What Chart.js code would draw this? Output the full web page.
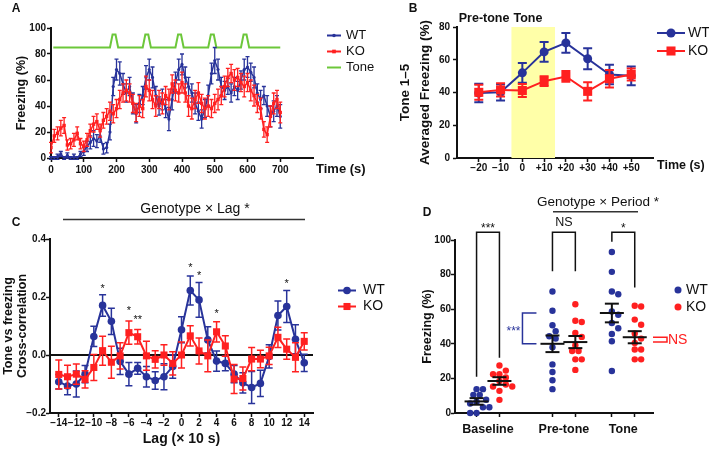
<!DOCTYPE html>
<html>
<head>
<meta charset="utf-8">
<script src="https://cdn.jsdelivr.net/npm/chart.js@4.4.1/dist/chart.umd.min.js"></script>
<style>
  html, body { margin: 0; padding: 0; background: #fff; }
  #page { position: relative; width: 709px; height: 450px; overflow: hidden; }
  canvas { position: absolute; }
</style>
</head>
<body>
<div id="page">
  <canvas id="cA" width="380" height="190" style="left:0;top:0"></canvas>
  <canvas id="cB" width="329" height="190" style="left:380px;top:0"></canvas>
  <canvas id="cD" width="329" height="260" style="left:380px;top:190px"></canvas>
  <canvas id="cC" width="395" height="260" style="left:0;top:190px"></canvas>
</div>
<script>
// ---------- A: freezing across the session (10 s bins) ----------
const timeA = [0, 10, 20, 30, 40, 50, 60, 70, 80, 90,
  100, 110, 120, 130, 140, 150, 160, 170, 180, 190,
  200, 210, 220, 230, 240, 250, 260, 270, 280, 290,
  300, 310, 320, 330, 340, 350, 360, 370, 380, 390,
  400, 410, 420, 430, 440, 450, 460, 470, 480, 490,
  500, 510, 520, 530, 540, 550, 560, 570, 580, 590,
  600, 610, 620, 630, 640, 650, 660, 670, 680, 690, 700];
const wtA = [0, 0, 1, 3, 0, 2, 0, 1, 0, 3,
  5, 9, 12, 15, 13, 17, 7, 8, 20, 55,
  68, 65, 57, 50, 55, 42, 34, 42, 48, 62,
  68, 62, 48, 40, 45, 38, 30, 45, 58, 68,
  72, 62, 55, 50, 42, 36, 30, 38, 48, 65,
  75, 68, 55, 52, 55, 50, 55, 52, 60, 68,
  70, 66, 62, 50, 45, 48, 40, 32, 36, 40, 32];
const wtErrA = [1, 1, 2, 2, 1, 2, 1, 2, 1, 2,
  3, 4, 5, 6, 5, 5, 4, 4, 6, 7,
  8, 9, 8, 7, 7, 8, 7, 7, 7, 9,
  8, 8, 7, 7, 8, 7, 9, 8, 8, 8,
  8, 8, 7, 7, 8, 7, 7, 7, 8, 8,
  10, 8, 7, 7, 6, 7, 7, 7, 7, 8,
  8, 7, 8, 7, 7, 7, 8, 8, 8, 8, 9];
const koA = [8, 17, 19, 23, 25, 10, 11, 14, 19, 11,
  9, 14, 21, 26, 28, 21, 29, 32, 36, 34,
  38, 45, 50, 52, 50, 42, 35, 40, 38, 55,
  52, 45, 40, 45, 42, 48, 45, 57, 52, 50,
  58, 50, 40, 38, 45, 50, 42, 38, 40, 38,
  42, 45, 48, 55, 62, 65, 60, 62, 58, 55,
  58, 52, 48, 42, 38, 22, 18, 32, 42, 45, 35];
const koErrA = [4, 5, 5, 6, 6, 4, 4, 5, 5, 4,
  4, 5, 5, 6, 6, 5, 6, 6, 7, 7,
  7, 7, 7, 8, 7, 7, 7, 8, 7, 8,
  8, 7, 8, 7, 8, 7, 8, 7, 8, 7,
  8, 7, 8, 8, 7, 8, 7, 8, 8, 7,
  7, 8, 7, 8, 7, 7, 8, 7, 7, 8,
  7, 8, 8, 7, 8, 6, 6, 8, 8, 7, 8];
const toneTimes = [7, 180, 188, 197, 205, 280, 288, 297, 305, 380, 388, 397, 405,
  480, 488, 497, 505, 580, 588, 597, 605, 700];
const toneLevels = [85, 85, 95, 95, 85, 85, 95, 95, 85, 85, 95, 95, 85,
  85, 95, 95, 85, 85, 95, 95, 85, 85];
const timeTicksA = [0, 100, 200, 300, 400, 500, 600, 700];

// ---------- B: tone 1-5 averaged ----------
const timeB = [-20, -10, 0, 10, 20, 30, 40, 50];
const wtB = [39.7, 40.1, 52, 64.8, 70.3, 60.6, 51, 50.2];
const wtErrB = [5.7, 5, 6, 6, 6, 6.4, 5.9, 5.7];
const koB = [40.1, 41.6, 41.2, 46.9, 49.8, 40.7, 48.4, 51];
const koErrB = [4.6, 4, 4, 3, 3.3, 5.6, 5.3, 3.6];
const toneWindowB = [-5, 15];

// ---------- C: cross-correlation ----------
const lags = [-14, -13, -12, -11, -10, -9, -8, -7, -6, -5, -4, -3, -2, -1,
  0, 1, 2, 3, 4, 5, 6, 7, 8, 9, 10, 11, 12, 13, 14];
const wtC = [-0.092, -0.107, -0.100, -0.066, 0.064, 0.171, 0.116, -0.022, -0.066, -0.046, -0.075, -0.088, -0.075, -0.040,
  0.087, 0.222, 0.190, 0.052, -0.021, -0.029, -0.066, -0.096, -0.112, -0.098, -0.005, 0.136, 0.167, 0.054, -0.027];
const wtErrC = [0.025, 0.03, 0.045, 0.03, 0.035, 0.037, 0.045, 0.045, 0.04, 0.02, 0.035, 0.03, 0.045, 0.04,
  0.045, 0.05, 0.06, 0.045, 0.035, 0.025, 0.03, 0.035, 0.055, 0.045, 0.04, 0.05, 0.055, 0.05, 0.03];
const koC = [-0.067, -0.075, -0.066, -0.084, -0.043, 0.015, -0.025, -0.003, 0.077, 0.063, -0.003, -0.015, 0.000, -0.029,
  0.000, 0.066, 0.014, -0.003, 0.080, 0.031, -0.083, -0.081, -0.014, -0.014, -0.003, 0.061, 0.020, -0.008, 0.047];
const koErrC = [0.05, 0.04, 0.035, 0.03, 0.045, 0.05, 0.055, 0.045, 0.04, 0.025, 0.05, 0.03, 0.035, 0.04,
  0.045, 0.035, 0.045, 0.055, 0.035, 0.035, 0.05, 0.04, 0.04, 0.03, 0.03, 0.035, 0.035, 0.05, 0.03];
const lagTicks = [-14, -12, -10, -8, -6, -4, -2, 0, 2, 4, 6, 8, 10, 12, 14];
const starLags = [-9, -6, -5, 1, 2, 4, 12];
const starLevels = [0.24, 0.162, 0.132, 0.31, 0.284, 0.152, 0.256];
const starTexts = ['*', '*', '**', '*', '*', '*', '*'];

// ---------- D: individual animals ----------
const periods = ['Baseline', 'Pre-tone', 'Tone'];
const wtD = [
  [13.8, 13.8, 10.5, 10.5, 7.7, 6.5, 5.5, 3.3, 3.3, 0, 0],
  [70.2, 59.1, 50.7, 47.3, 44.4, 43, 38, 28.1, 23.7, 18.9, 13.8],
  [93.1, 81.6, 70.2, 68.6, 58.7, 56.8, 52, 49, 45.7, 41.5, 24.3]
];
const koD = [
  [27.5, 24.5, 22.4, 22.4, 20.5, 18.5, 16.5, 15.3, 15.3, 12.8, 7.6],
  [62.9, 53.3, 52.6, 46.3, 44, 39.2, 35.8, 35.8, 31, 31, 24.9],
  [62, 61.6, 54, 51, 46, 43, 40.5, 36.7, 36.7, 31, 31]
];
const wtMeanD = [6.7, 40, 57.8];
const wtSemD = [1.9, 4.8, 5.4];
const koMeanD = [18.5, 41, 43.8];
const koSemD = [2.2, 3.5, 3.5];
const bracketLegs = [[21, 32], [82, 82], [99, 72.5]];
const bracketTexts = ['***', 'NS', '*'];

// ---------- look ----------
const FONT = '"Liberation Sans", Arial, Helvetica, sans-serif';
const BLUE = '#28339a', RED = '#ff2020', GREEN = '#6cc73a', YELLOW = '#ffffa8', INK = '#111';
Chart.defaults.font.family = FONT;
Chart.defaults.color = INK;

const tickFont = { size: 10, weight: 'bold' };
const axisGrid = { drawOnChartArea: false, drawTicks: true, tickLength: 4, tickWidth: 1.5, tickColor: INK };
const axisBorder = { display: true, color: INK, width: 2 };
const fixWidth = w => s => { s.width = w; };
const fixHeight = h => s => { s.height = h; };
const setTicks = vals => s => { s.ticks = vals.map(v => ({ value: v })); };
const signed = v => v < 0 ? '\u2212' + Math.abs(v) : String(v);
const pts = (xs, ys) => xs.map((x, i) => ({ x: x, y: ys[i] }));

function baseOptions(pad) {
  return {
    responsive: false, animation: false, events: [],
    layout: { padding: pad },
    plugins: { legend: { display: false }, tooltip: { enabled: false } }
  };
}

function text(ctx, s, x, y, font, color, align, base) {
  ctx.save();
  ctx.font = font;
  ctx.fillStyle = color || INK;
  ctx.textAlign = align || 'left';
  ctx.textBaseline = base || 'middle';
  ctx.fillText(s, x, y);
  ctx.restore();
}
function line(ctx, coords, color, w) {
  ctx.save();
  ctx.strokeStyle = color || INK;
  ctx.lineWidth = w || 1.5;
  ctx.beginPath();
  coords.forEach((p, i) => i ? ctx.lineTo(p[0], p[1]) : ctx.moveTo(p[0], p[1]));
  ctx.stroke();
  ctx.restore();
}
function marker(ctx, style, x, y, r, color) {
  ctx.save();
  ctx.fillStyle = color;
  ctx.beginPath();
  if (style === 'rect') { const h = r * Math.SQRT1_2; ctx.rect(x - h, y - h, 2 * h, 2 * h); }
  else ctx.arc(x, y, r, 0, Math.PI * 2);
  ctx.fill();
  ctx.restore();
}
function legendRow(ctx, x1, x2, y, color, style, r, label, size, tx) {
  line(ctx, [[x1, y], [x2, y]], color, 2);
  if (style) marker(ctx, style, (x1 + x2) / 2, y, r, color);
  text(ctx, label, tx, y, size + 'px ' + FONT, INK);
}
// star glyphs sit high in the em box, so place them by their visual centre
function star(ctx, s, x, y, size, color) {
  text(ctx, s, x, y + 0.57 * size, size + 'px ' + FONT, color || INK, 'center', 'alphabetic');
}

// vertical SEM bars from each dataset's `errors` list, under its markers
const errorBars = {
  id: 'errorBars',
  beforeDatasetDraw(chart, args) {
    const ds = chart.data.datasets[args.index];
    if (!ds.errors) return;
    const ys = chart.scales.y, ctx = chart.ctx, cw = ds.capWidth || 3;
    ctx.save();
    ctx.strokeStyle = ds.borderColor;
    ctx.lineWidth = ds.errWidth || 1.5;
    ctx.beginPath();
    args.meta.data.forEach((el, i) => {
      const v = ds.data[i].y, e = ds.errors[i];
      const y1 = ys.getPixelForValue(v - e), y2 = ys.getPixelForValue(v + e);
      ctx.moveTo(el.x, y1); ctx.lineTo(el.x, y2);
      ctx.moveTo(el.x - cw, y1); ctx.lineTo(el.x + cw, y1);
      ctx.moveTo(el.x - cw, y2); ctx.lineTo(el.x + cw, y2);
    });
    ctx.stroke();
    ctx.restore();
  }
};

// ---------- A ----------
new Chart(document.getElementById('cA'), {
  type: 'line',
  data: {
    datasets: [
      { label: 'KO', data: pts(timeA, koA), errors: koErrA, borderColor: RED, backgroundColor: RED,
        borderWidth: 1.5, pointStyle: 'rect', pointRadius: 2.4, pointBorderWidth: 0, capWidth: 2, errWidth: 1.3, order: 0 },
      { label: 'WT', data: pts(timeA, wtA), errors: wtErrA, borderColor: BLUE, backgroundColor: BLUE,
        borderWidth: 1.5, pointStyle: 'circle', pointRadius: 1.6, pointBorderWidth: 0, capWidth: 2, errWidth: 1.3, order: 1 },
      { label: 'Tone', data: pts(toneTimes, toneLevels), borderColor: GREEN, borderWidth: 2, pointRadius: 0, order: 2 }
    ]
  },
  options: Object.assign(baseOptions({ left: 0, top: 28, right: 67, bottom: 0 }), {
    scales: {
      x: { type: 'linear', min: 0, max: 800, afterBuildTicks: setTicks(timeTicksA), afterFit: fixHeight(32),
           ticks: { font: tickFont, color: INK, padding: 2, maxRotation: 0, autoSkip: false },
           grid: axisGrid, border: axisBorder },
      y: { min: 0, max: 100, afterFit: fixWidth(51),
           ticks: { stepSize: 20, font: tickFont, color: INK, padding: 1 },
           title: { display: true, text: 'Freezing (%)', font: { size: 12.5, weight: 'bold' }, color: INK, padding: { top: 14.5, bottom: 0 } },
           grid: axisGrid, border: axisBorder }
    }
  }),
  plugins: [errorBars, {
    id: 'overlayA',
    afterDraw(chart) {
      const c = chart.ctx, a = chart.chartArea;
      text(c, 'A', 16, 9, 'bold 12px ' + FONT, INK, 'center');
      text(c, 'Time (s)', a.right + 3, 169, 'bold 13px ' + FONT);
      legendRow(c, 327, 341, 35.5, BLUE, 'circle', 1.8, 'WT', 13, 346);
      legendRow(c, 327, 341, 51.5, RED, 'rect', 2.6, 'KO', 13, 346);
      legendRow(c, 327, 341, 67.5, GREEN, null, 0, 'Tone', 13, 346);
    }
  }]
});

// ---------- B ----------
new Chart(document.getElementById('cB'), {
  type: 'line',
  data: {
    datasets: [
      { label: 'KO', data: pts(timeB, koB), errors: koErrB, borderColor: RED, backgroundColor: RED,
        borderWidth: 2, pointStyle: 'rect', pointRadius: 6.4, pointBorderWidth: 0, capWidth: 4.5, errWidth: 2, order: 0 },
      { label: 'WT', data: pts(timeB, wtB), errors: wtErrB, borderColor: BLUE, backgroundColor: BLUE,
        borderWidth: 2, pointStyle: 'circle', pointRadius: 4.5, pointBorderWidth: 0, capWidth: 4.5, errWidth: 2, order: 1 }
    ]
  },
  options: Object.assign(baseOptions({ left: 0, top: 27, right: 56, bottom: 0 }), {
    scales: {
      x: { type: 'linear', min: -30, max: 60, afterBuildTicks: setTicks(timeB), afterFit: fixHeight(32),
           ticks: { font: tickFont, color: INK, padding: 0, maxRotation: 0, autoSkip: false,
                    callback: v => v > 0 ? '+' + v : signed(v) },
           grid: axisGrid, border: axisBorder },
      y: { min: 0, max: 80, afterFit: fixWidth(77),
           ticks: { stepSize: 20, font: tickFont, color: INK, padding: 3 },
           title: { display: true, text: ['Tone 1\u20135', 'Averaged Freezing (%)'],
                    font: { size: 13.5, weight: 'bold', lineHeight: 1.45 }, color: INK, padding: { top: 15.5, bottom: 0 } },
           grid: axisGrid, border: axisBorder }
    }
  }),
  plugins: [errorBars, {
    id: 'overlayB',
    beforeDatasetsDraw(chart) {
      const c = chart.ctx, xs = chart.scales.x, ys = chart.scales.y;
      const x1 = xs.getPixelForValue(toneWindowB[0]), x2 = xs.getPixelForValue(toneWindowB[1]);
      c.save();
      c.fillStyle = YELLOW;
      c.fillRect(x1, ys.getPixelForValue(80), x2 - x1, ys.getPixelForValue(0) - ys.getPixelForValue(80));
      c.restore();
    },
    afterDraw(chart) {
      const c = chart.ctx, a = chart.chartArea, xs = chart.scales.x;
      const edge = xs.getPixelForValue(toneWindowB[0]);
      text(c, 'B', 33, 9, 'bold 12px ' + FONT, INK, 'center');
      text(c, 'Pre-tone', edge - 2, 19, 'bold 12.5px ' + FONT, INK, 'right');
      text(c, 'Tone', edge + 2, 19, 'bold 12.5px ' + FONT, INK, 'left');
      text(c, 'Time (s)', a.right + 4, 166, 'bold 12.5px ' + FONT);
      legendRow(c, 277, 305, 33, BLUE, 'circle', 4.5, 'WT', 14, 308);
      legendRow(c, 277, 305, 51, RED, 'rect', 6.4, 'KO', 14, 308);
    }
  }]
});

// ---------- C ----------
new Chart(document.getElementById('cC'), {
  type: 'line',
  data: {
    datasets: [
      { label: 'KO', data: pts(lags, koC), errors: koErrC, borderColor: RED, backgroundColor: RED,
        borderWidth: 2, pointStyle: 'rect', pointRadius: 5, pointBorderWidth: 0, capWidth: 3.5, errWidth: 1.5, order: 0 },
      { label: 'WT', data: pts(lags, wtC), errors: wtErrC, borderColor: BLUE, backgroundColor: BLUE,
        borderWidth: 2, pointStyle: 'circle', pointRadius: 3.8, pointBorderWidth: 0, capWidth: 3.5, errWidth: 1.5, order: 1 }
    ]
  },
  options: Object.assign(baseOptions({ left: 0, top: 49, right: 82, bottom: 0 }), {
    scales: {
      x: { type: 'linear', min: -15, max: 15, afterBuildTicks: setTicks(lagTicks), afterFit: fixHeight(37),
           ticks: { font: tickFont, color: INK, padding: 0, maxRotation: 0, autoSkip: false, callback: signed },
           title: { display: true, text: 'Lag (\u00d7 10 s)', font: { size: 14, weight: 'bold' }, color: INK, padding: { top: 0, bottom: 2.5 } },
           grid: axisGrid, border: axisBorder },
      y: { min: -0.2, max: 0.4, afterBuildTicks: setTicks([-0.2, 0, 0.2, 0.4]), afterFit: fixWidth(50),
           ticks: { font: tickFont, color: INK, padding: 0,
                    callback: v => (v < 0 ? '\u2212' : '') + Math.abs(v).toFixed(1) },
           title: { display: true, text: ['Tone vs freezing', 'Cross-correlation'],
                    font: { size: 12.5, weight: 'bold', lineHeight: 1.12 }, color: INK, padding: { top: 2, bottom: 0 } },
           grid: axisGrid, border: axisBorder }
    }
  }),
  plugins: [errorBars, {
    id: 'overlayC',
    beforeDatasetsDraw(chart) {
      const a = chart.chartArea, y0 = chart.scales.y.getPixelForValue(0);
      line(chart.ctx, [[a.left, y0], [a.right, y0]], INK, 2);
    },
    afterDraw(chart) {
      const c = chart.ctx, xs = chart.scales.x, ys = chart.scales.y;
      text(c, 'Genotype \u00d7 Lag *', 195, 19, '14px ' + FONT, INK, 'center');
      line(c, [[63, 29.5], [305, 29.5]], '#333', 1.5);
      text(c, 'C', 16, 33, 'bold 12px ' + FONT, INK, 'center');
      starLags.forEach((l, i) => star(c, starTexts[i], xs.getPixelForValue(l), ys.getPixelForValue(starLevels[i]), 11));
      legendRow(c, 338, 356, 100.5, BLUE, 'circle', 3.8, 'WT', 14, 363);
      legendRow(c, 338, 356, 116.5, RED, 'rect', 5, 'KO', 14, 363);
    }
  }]
});

// ---------- D ----------
const groupX = [1.5, 4.95, 7.65];   // where each period sits on the x scale
const pairOffset = 0.52;            // WT left, KO right of the period centre

// beeswarm: push dots with similar values sideways so they do not overlap
function swarm(values, centre) {
  const unitX = 9 / 198, unitY = 100 / 173, gap = 6.4;
  const placed = [];
  return values.map(v => {
    let off = 0;
    for (let k = 0; k < 40; k++) {
      off = Math.ceil(k / 2) * (k % 2 ? 1 : -1) * gap / 2;
      const hit = placed.some(p => Math.hypot(off - p.off, (v - p.v) / unitY) < gap);
      if (!hit) break;
    }
    placed.push({ off: off, v: v });
    return { x: centre + off * unitX, y: v };
  });
}
const wtDots = [].concat(...wtD.map((vals, g) => swarm(vals, groupX[g] - pairOffset)));
const koDots = [].concat(...koD.map((vals, g) => swarm(vals, groupX[g] + pairOffset)));
const dotTicks = [].concat(...groupX.map(g => [g - pairOffset, g + pairOffset]));

new Chart(document.getElementById('cD'), {
  type: 'scatter',
  data: {
    datasets: [
      { label: 'WT', data: wtDots, backgroundColor: BLUE, pointRadius: 3.2, pointBorderWidth: 0, clip: false },
      { label: 'KO', data: koDots, backgroundColor: RED, pointRadius: 3.2, pointBorderWidth: 0, clip: false }
    ]
  },
  options: Object.assign(baseOptions({ left: 0, top: 50, right: 56, bottom: 0 }), {
    scales: {
      x: { type: 'linear', min: 0, max: 9, afterBuildTicks: setTicks(dotTicks), afterFit: fixHeight(37),
           ticks: { font: tickFont, callback: () => '' },
           grid: axisGrid, border: axisBorder },
      y: { min: 0, max: 100, afterFit: fixWidth(75),
           ticks: { stepSize: 20, font: tickFont, color: INK, padding: 0 },
           title: { display: true, text: 'Freezing (%)', font: { size: 12.5, weight: 'bold' }, color: INK, padding: { top: 40, bottom: 0 } },
           grid: axisGrid, border: axisBorder }
    }
  }),
  plugins: [{
    id: 'overlayD',
    afterDatasetsDraw(chart) {
      const c = chart.ctx, xs = chart.scales.x, ys = chart.scales.y, a = chart.chartArea;
      const px = v => xs.getPixelForValue(v), py = v => ys.getPixelForValue(v);
      // mean and SEM for each period and genotype
      groupX.forEach((g, i) => {
        [[g - pairOffset, wtMeanD[i], wtSemD[i]], [g + pairOffset, koMeanD[i], koSemD[i]]].forEach(([x, m, s]) => {
          const cx = px(x);
          line(c, [[cx - 12, py(m)], [cx + 12, py(m)]], INK, 2);
          line(c, [[cx, py(m - s)], [cx, py(m + s)]], INK, 2);
          line(c, [[cx - 7, py(m - s)], [cx + 7, py(m - s)]], INK, 2);
          line(c, [[cx - 7, py(m + s)], [cx + 7, py(m + s)]], INK, 2);
        });
        // WT vs KO bracket above each period
        const xl = px(g - pairOffset), xr = px(g + pairOffset), top = py(104.5);
        line(c, [[xl, py(bracketLegs[i][0])], [xl, top], [xr, top], [xr, py(bracketLegs[i][1])]], INK, 1.5);
        if (bracketTexts[i] === 'NS') text(c, 'NS', (xl + xr) / 2, top - 3, '12.5px ' + FONT, INK, 'center', 'bottom');
        else star(c, bracketTexts[i], (xl + xr) / 2, top - 7, 12);
      });
      // WT pre-tone vs tone
      const bx = px(groupX[1] - pairOffset) - 30;
      const b1 = py(wtMeanD[1]), b2 = py(wtMeanD[2]);
      line(c, [[bx + 14, b2], [bx, b2], [bx, b1], [bx + 14, b1]], BLUE, 1.5);
      star(c, '***', bx - 9, (b1 + b2) / 2, 12, BLUE);
      // KO pre-tone vs tone
      const r1 = py(koMeanD[1]), r2 = py(koMeanD[2]);
      line(c, [[a.right, r2], [a.right + 14, r2], [a.right + 14, r1], [a.right, r1]], RED, 1.5);
      text(c, 'NS', a.right + 15, (r1 + r2) / 2, '14px ' + FONT, RED, 'left');
      // period names
      groupX.forEach((g, i) => text(c, periods[i], px(g), 240, 'bold 12.5px ' + FONT, INK, 'center'));
    },
    afterDraw(chart) {
      const c = chart.ctx;
      text(c, 'D', 47, 23, 'bold 12px ' + FONT, INK, 'center');
      text(c, 'Genotype \u00d7 Period *', 218, 12, '13.5px ' + FONT, INK, 'center');
      line(c, [[173, 21.7], [258, 21.7]], '#333', 1.5);
      marker(c, 'circle', 298, 100, 3.5, BLUE);
      text(c, 'WT', 306, 100, '14px ' + FONT);
      marker(c, 'circle', 298, 117, 3.5, RED);
      text(c, 'KO', 306, 117, '14px ' + FONT);
    }
  }]
});
</script>
</body>
</html>
